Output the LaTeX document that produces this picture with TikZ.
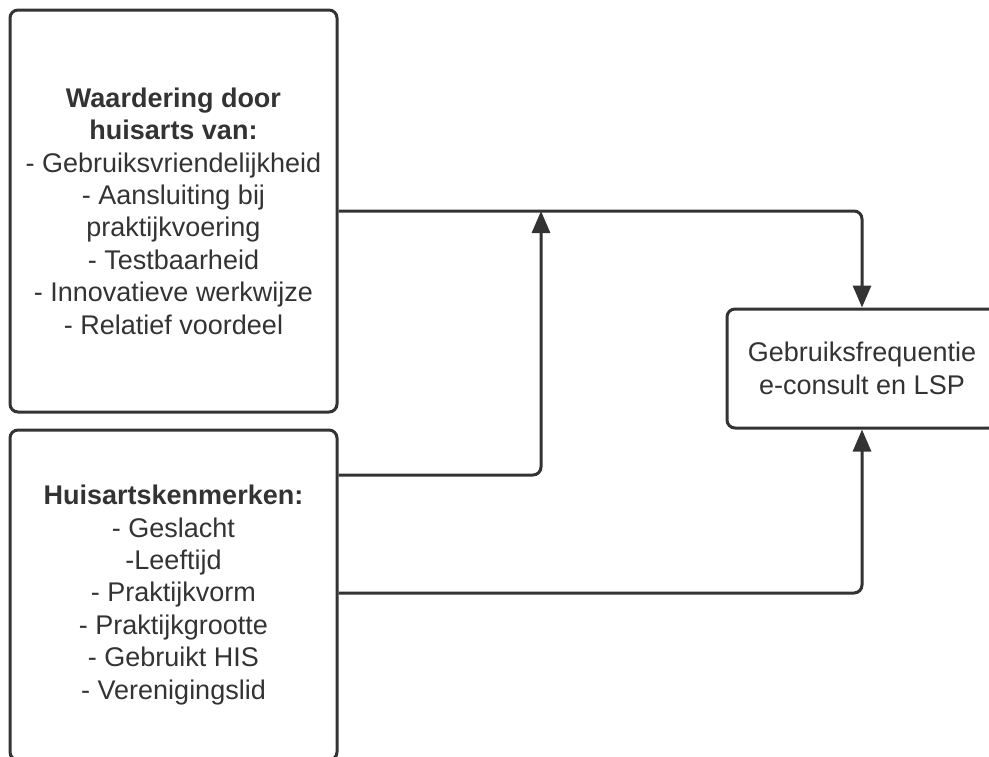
\documentclass[tikz,border=0pt]{standalone}
\usepackage{fontspec}
\setmainfont{Liberation Sans}
\usepackage{xcolor}
\usepackage{tikz}
\usetikzlibrary{arrows.meta}
\definecolor{LineGray}{HTML}{333333}

\begin{document}
\begin{tikzpicture}[
  x=0.5pt, y=-0.5pt,
  box/.style={draw=LineGray, line width=1.5pt, rounded corners=4pt, align=center, inner sep=0pt, text=LineGray, font=\fontsize{13.5}{16.2}\selectfont},
  arrow/.style={-{Triangle[length=11pt,width=9pt]}, draw=LineGray, line width=1.5pt, rounded corners=4pt}
]
  \clip (0,0) rectangle (989,756);
  \node[box, minimum width=163.5pt, minimum height=201pt] (waardering) at (173.5,211)
    {\textbf{Waardering door}\\\textbf{huisarts van:}\\- Gebruiksvriendelijkheid\\- Aansluiting bij\\praktijkvoering\\- Testbaarheid\\- Innovatieve werkwijze\\- Relatief voordeel};
  \node[box, minimum width=163.5pt, minimum height=165pt] (kenmerken) at (173.5,595)
    {\textbf{Huisartskenmerken:}\\- Geslacht\\-Leeftijd\\- Praktijkvorm\\- Praktijkgrootte\\- Gebruikt HIS\\- Verenigingslid};
  \node[box, minimum width=135pt, minimum height=59.5pt] (frequentie) at (862,368.5)
    {Gebruiksfrequentie\\e-consult en LSP};
  \coordinate (join) at (541,211);

  \draw[arrow] (waardering.east) -| (frequentie.north);
  \draw[arrow] (kenmerken.east |- 0,475) -| (join);
  \draw[arrow] (kenmerken.east |- 0,593) -| (frequentie.south);
\end{tikzpicture}
\end{document}
